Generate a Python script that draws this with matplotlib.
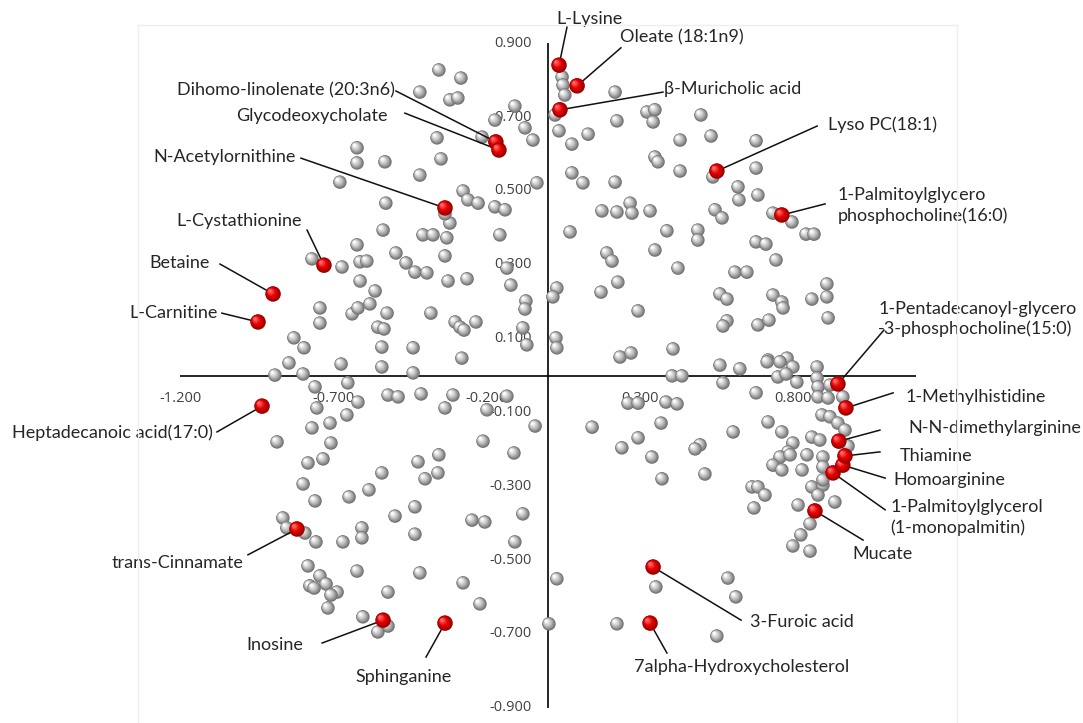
import matplotlib
matplotlib.use("Agg")
import matplotlib.pyplot as plt
import numpy as np
from matplotlib.colors import to_rgb
from matplotlib.lines import Line2D

# ---------------- data ----------------
gray_x = [-0.623, -0.623, -0.532, -0.679, -0.529, -0.538, -0.418, -0.418, -0.356, -0.284,
          -0.320, -0.294, -0.108, -0.173, -0.075, -0.049, -0.215, -0.362, -0.349, -0.277,
          -0.261, -0.228, -0.173, -0.140, -0.036, -0.320, -0.336, -0.408, -0.375, -0.330,
          -0.157, 0.072, 0.388, 0.046, 0.049, 0.055, 0.023, 0.219, 0.323, 0.349,
          0.343, 0.225, 0.036, 0.131, 0.078, 0.431, 0.349, 0.359, 0.431, 0.078,
          0.114, 0.219, 0.176, 0.225, 0.268, 0.274, 0.333, 0.499, 0.532, 0.679,
          0.679, 0.538, 0.620, 0.623, 0.685, 0.545, 0.568, 0.489, 0.734, 0.796,
          0.842, 0.868, 0.679, 0.711, 0.489, -0.770, -0.672, -0.623, -0.613, -0.591,
          -0.496, -0.463, -0.434, -0.613, -0.564, -0.744, -0.744, -0.639, -0.620, -0.581,
          -0.525, -0.555, -0.535, -0.829, -0.796, -0.542, -0.440, -0.845, -0.675, -0.542,
          -0.891, -0.799, -0.440, -0.760, -0.653, -0.620, -0.754, -0.522, -0.489, -0.656,
          -0.711, -0.770, -0.884, -0.708, -0.783, -0.734, -0.414, -0.336, -0.395, -0.326,
          -0.264, -0.134, -0.121, -0.072, -0.075, -0.382, -0.303, -0.287, -0.274, -0.235,
          -0.082, -0.069, -0.281, 0.029, 0.016, 0.192, 0.209, 0.349, 0.424, 0.228,
          0.173, 0.294, 0.026, 0.029, 0.235, 0.271, 0.408, 0.405, 0.437, -0.310,
          -0.336, -0.199, -0.134, -0.042, -0.212, -0.356, -0.424, -0.111, 0.261, 0.294,
          0.385, 0.421, 0.144, 0.369, 0.294, 0.241, 0.339, 0.744, 0.610, 0.649,
          0.561, 0.584, 0.734, 0.763, 0.767, 0.861, 0.910, 0.910, 0.914, 0.584,
          0.571, 0.685, 0.721, 0.561, 0.626, 0.718, 0.780, 0.799, 0.878, 0.571,
          0.750, 0.777, 0.812, 0.878, 0.881, 0.920, 0.881, 0.914, 0.962, 0.679,
          0.715, 0.757, 0.894, 0.920, 0.946, 0.969, 0.718, 0.763, 0.604, 0.861,
          0.887, 0.799, 0.783, 0.496, 0.480, 0.845, 0.897, 0.897, 0.979, 0.757,
          0.790, 0.734, 0.763, 0.829, 0.512, 0.666, 0.685, 0.708, 0.672, 0.861,
          0.897, 0.881, 0.936, 0.816, 0.855, 0.825, 0.799, 0.855, 0.587, 0.613,
          0.551, 0.897, -0.542, -0.799, -0.584, -0.760, -0.649, -0.499, -0.434, -0.865,
          -0.852, -0.793, -0.757, -0.669, -0.607, -0.607, -0.434, -0.783, -0.744, -0.777,
          -0.763, -0.724, -0.688, -0.708, -0.623, -0.718, -0.522, -0.418, -0.604, -0.522,
          -0.555, -0.401, -0.359, -0.248, -0.206, -0.082, -0.108, -0.277, -0.222, 0.029,
          0.003, 0.372, 0.352, 0.225]
gray_y = [0.617, 0.576, 0.579, 0.524, 0.467, 0.394, 0.768, 0.543, 0.828, 0.806,
          0.747, 0.752, 0.730, 0.692, 0.671, 0.638, 0.646, 0.644, 0.587, 0.500,
          0.476, 0.467, 0.457, 0.449, 0.522, 0.413, 0.438, 0.381, 0.381, 0.373,
          0.381, 0.389, 0.392, 0.809, 0.787, 0.760, 0.706, 0.768, 0.714, 0.720,
          0.687, 0.690, 0.663, 0.654, 0.627, 0.638, 0.592, 0.579, 0.554, 0.549,
          0.522, 0.524, 0.446, 0.443, 0.467, 0.440, 0.446, 0.706, 0.649, 0.636,
          0.562, 0.538, 0.511, 0.476, 0.489, 0.449, 0.427, 0.394, 0.440, 0.416,
          0.383, 0.383, 0.362, 0.356, 0.367, 0.316, 0.294, 0.354, 0.308, 0.310,
          0.332, 0.305, 0.280, 0.256, 0.229, 0.183, 0.142, 0.167, 0.183, 0.194,
          0.169, 0.131, 0.126, 0.102, 0.075, 0.077, 0.075, 0.034, 0.031, 0.023,
          0.001, 0.004, 0.007, -0.031, -0.020, -0.072, -0.088, -0.053, -0.058, -0.107,
          -0.129, -0.142, -0.180, -0.183, -0.237, -0.226, -0.050, 0.324, 0.278, 0.256,
          0.262, 0.291, 0.245, 0.202, 0.180, 0.169, 0.145, 0.131, 0.123, 0.145,
          0.129, 0.083, 0.047, 0.237, 0.213, 0.332, 0.310, 0.340, 0.291, 0.253,
          0.226, 0.175, 0.102, 0.075, 0.050, 0.061, 0.072, -0.001, -0.001, -0.053,
          -0.088, -0.093, -0.056, -0.137, -0.178, -0.215, -0.234, -0.210, -0.075, -0.075,
          -0.072, -0.077, -0.140, -0.129, -0.169, -0.196, -0.221, 0.313, 0.280, 0.280,
          0.221, 0.207, 0.218, 0.199, 0.183, 0.207, 0.248, 0.213, 0.156, 0.148,
          0.134, 0.137, 0.150, 0.028, 0.018, 0.042, 0.047, 0.023, 0.023, -0.020,
          -0.004, 0.004, -0.018, -0.007, -0.031, -0.026, -0.058, -0.061, -0.058, -0.047,
          0.037, 0.037, -0.107, -0.112, -0.129, -0.148, -0.126, -0.153, -0.153, -0.167,
          -0.175, -0.183, -0.207, -0.188, -0.199, -0.215, -0.221, -0.248, -0.191, -0.221,
          -0.215, -0.243, -0.256, -0.256, -0.267, -0.302, -0.302, -0.324, -0.359, -0.302,
          -0.297, -0.324, -0.343, -0.351, -0.402, -0.432, -0.462, -0.476, -0.549, -0.600,
          -0.706, -0.283, -0.264, -0.294, -0.310, -0.340, -0.329, -0.381, -0.356, -0.386,
          -0.413, -0.427, -0.451, -0.451, -0.413, -0.440, -0.430, -0.516, -0.543, -0.570,
          -0.576, -0.565, -0.587, -0.595, -0.530, -0.630, -0.587, -0.535, -0.654, -0.679,
          -0.695, -0.280, -0.264, -0.392, -0.397, -0.375, -0.451, -0.562, -0.619, -0.551,
          -0.673, -0.280, -0.573, -0.673]

red_names = ["L-Lysine", "Oleate (18:1n9)", "β-Muricholic acid", "Lyso PC(18:1)",
             "1-Palmitoylglycero\nphosphocholine(16:0)", "Dihomo-linolenate (20:3n6)",
             "Glycodeoxycholate", "N-Acetylornithine", "L-Cystathionine", "Betaine",
             "L-Carnitine", "Heptadecanoic acid(17:0)", "trans-Cinnamate", "Inosine",
             "Sphinganine", "3-Furoic acid", "7alpha-Hydroxycholesterol", "Mucate",
             "1-Palmitoylglycerol\n(1-monopalmitin)", "Homoarginine", "Thiamine",
             "N-N-dimethylarginine", "1-Methylhistidine",
             "1-Pentadecanoyl-glycero\n-3-phosphocholine(15:0)"]
red_x = [0.036, 0.095, 0.039, 0.551, 0.763, -0.170, -0.160, -0.336, -0.731, -0.897,
         -0.946, -0.933, -0.819, -0.538, -0.336, 0.343, 0.333, 0.871, 0.930, 0.962,
         0.969, 0.949, 0.972, 0.946]
red_y = [0.841, 0.785, 0.720, 0.554, 0.435, 0.633, 0.611, 0.454, 0.299, 0.221,
         0.145, -0.083, -0.416, -0.663, -0.671, -0.519, -0.671, -0.367, -0.264, -0.243,
         -0.218, -0.178, -0.088, -0.023]

x_ticks = [-1.2, -0.7, -0.2, 0.3, 0.8]
y_ticks = [0.9, 0.7, 0.5, 0.3, 0.1, -0.1, -0.3, -0.5, -0.7, -0.9]

# ---------------- layout (label placement) ----------------
# (text x, text y, ha, leader start x, leader start y)
label_layout = [
    (0.137, 0.966, "center", 0.062, 0.944),
    (0.235, 0.915, "left", 0.238, 0.888),
    (0.378, 0.776, "left", 0.375, 0.768),
    (0.914, 0.679, "left", 0.878, 0.676),
    (0.946, 0.461, "left", 0.904, 0.465),
    (-0.499, 0.774, "right", -0.496, 0.771),
    (-0.522, 0.703, "right", -0.467, 0.711),
    (-0.822, 0.592, "right", -0.806, 0.589),
    (-0.803, 0.419, "right", -0.786, 0.394),
    (-1.103, 0.305, "right", -1.070, 0.302),
    (-1.077, 0.169, "right", -1.064, 0.169),
    (-1.093, -0.156, "right", -1.080, -0.153),
    (-0.995, -0.508, "right", -0.979, -0.486),
    (-0.890, -0.730, "center", -0.737, -0.725),
    (-0.470, -0.817, "center", -0.398, -0.763),
    (0.659, -0.668, "left", 0.630, -0.663),
    (0.633, -0.790, "center", 0.388, -0.752),
    (1.090, -0.484, "center", 1.028, -0.446),
    (1.116, -0.385, "left", 1.100, -0.364),
    (1.126, -0.283, "left", 1.100, -0.278),
    (1.148, -0.218, "left", 1.083, -0.207),
    (1.175, -0.142, "left", 1.083, -0.148),
    (1.168, -0.058, "left", 1.126, -0.047),
    (1.077, 0.153, "left", 1.096, 0.123),
]

W, H = 1083, 723
fig = plt.figure(figsize=(W / 100, H / 100), dpi=100)
ax = fig.add_axes([0, 0, 1, 1])
ax.set_xlim(-1.7879, 1.7455)
ax.set_ylim(-0.9417, 1.0176)
ax.axis("off")

# faint frame
frame_c = "#efefef"
fig.add_artist(Line2D([138 / W, 138 / W], [0, 1 - 25 / H], color=frame_c, lw=1, transform=fig.transFigure))
fig.add_artist(Line2D([138 / W, 957 / W], [1 - 25 / H, 1 - 25 / H], color=frame_c, lw=1, transform=fig.transFigure))
fig.add_artist(Line2D([957 / W, 957 / W], [0, 1 - 25 / H], color=frame_c, lw=1, transform=fig.transFigure))

# axes through origin
ax.plot([x_ticks[0], -x_ticks[0]], [0, 0], color="black", lw=1.2, zorder=1, solid_capstyle="butt")
ax.plot([0, 0], [y_ticks[-1], y_ticks[0]], color="black", lw=1.2, zorder=1, solid_capstyle="butt")

tick_kw = dict(fontsize=10.5, color="#404040", family="Open Sans", zorder=0.5)
# pixel->data scale
p0 = ax.transData.transform((0, 0))
px_x = ax.transData.transform((1, 0))[0] - p0[0]
px_y = ax.transData.transform((0, 1))[1] - p0[1]
for v in x_ticks:
    ax.text(v, -22.5 / px_y, f"{v:.3f}", ha="center", va="center", **tick_kw)
for v in y_ticks:
    ax.text(-16 / px_x, v, f"{v:.3f}", ha="right", va="center", **tick_kw)


def mix(c1, c2, t):
    a, b = np.array(to_rgb(c1)), np.array(to_rgb(c2))
    return tuple(a + (b - a) * t)


def sphere_layers(xs, ys, d_px, dark, mid, light, n=9):
    X, Y, S, C = [], [], [], []
    for x, y in zip(xs, ys):
        for i in range(n):
            t = i / (n - 1)
            d = d_px * (1 - 0.82 * t)
            off = d_px * 0.2 * t
            if t < 0.5:
                col = mix(dark, mid, t / 0.5)
            else:
                col = mix(mid, light, (t - 0.5) / 0.5)
            X.append(x - off / px_x)
            Y.append(y + off / px_y)
            S.append((d * 0.72) ** 2)
            C.append(col)
    return X, Y, S, C


gx, gy, gs, gc = sphere_layers(gray_x, gray_y, 13.5, "#727272", "#c2c2c2", "#ffffff")
ax.scatter(gx, gy, s=gs, c=gc, linewidths=0, zorder=2)

# leader lines
for (tx, ty, ha, lx, ly), rx, ry in zip(label_layout, red_x, red_y):
    ax.plot([lx, rx], [ly, ry], color="#111111", lw=1.1, zorder=3)

rx_, ry_, rs, rc = sphere_layers(red_x, red_y, 15.5, "#9a0000", "#e60000", "#ff6a6a")
ax.scatter(rx_, ry_, s=rs, c=rc, linewidths=0, zorder=4)

for name, (tx, ty, ha, lx, ly) in zip(red_names, label_layout):
    ax.text(tx, ty, name, ha=ha, va="center", fontsize=13, family="Lato",
            color="#262626", linespacing=1.32, zorder=5)

fig.savefig("out.png", dpi=100)
